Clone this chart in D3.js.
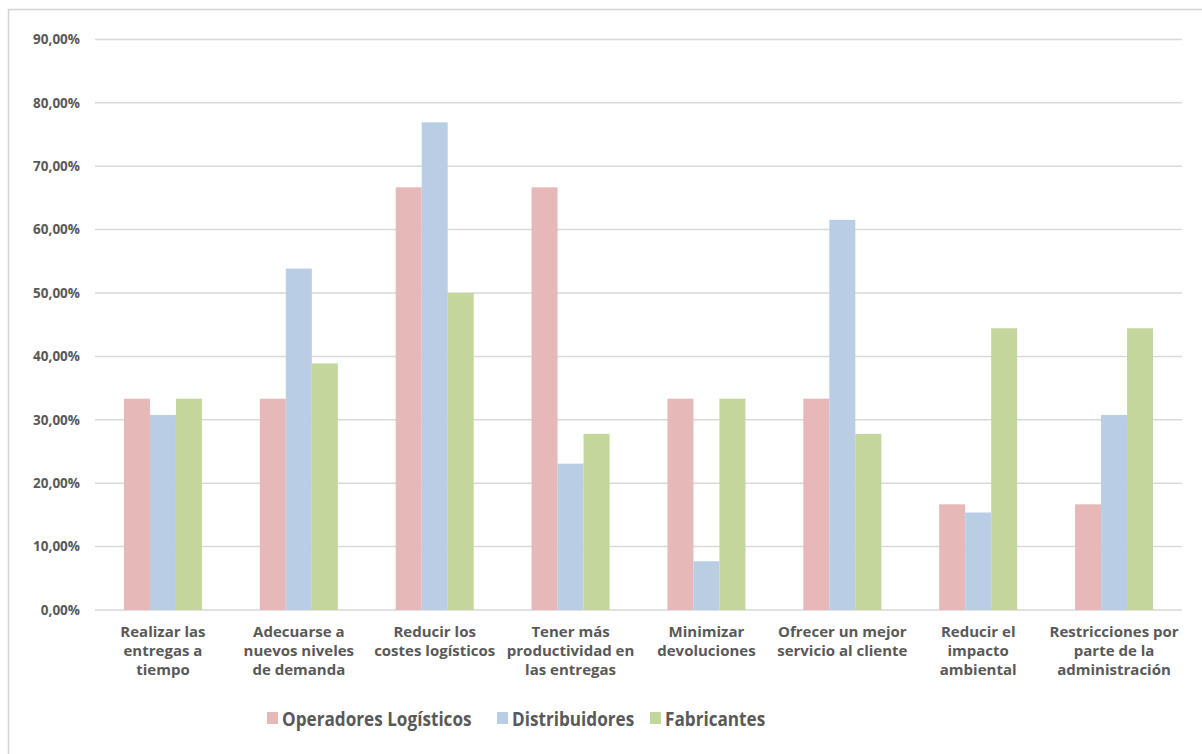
<!DOCTYPE html>
<html>
<head>
<meta charset="utf-8">
<script src="https://cdn.jsdelivr.net/npm/d3@7"></script>
<style>
  html, body { margin: 0; padding: 0; background: #ffffff; }
  svg { display: block; }
  text { font-family: "Open Sans", "DejaVu Sans", sans-serif; font-weight: bold; fill: #595959; }
</style>
</head>
<body>
<svg id="chart" width="1202" height="754"></svg>
<script>
// Categories (multi-line labels) and series values (%)
const categories = [
  ["Realizar las", "entregas a", "tiempo"],
  ["Adecuarse a", "nuevos niveles", "de demanda"],
  ["Reducir los", "costes logísticos"],
  ["Tener más", "productividad en", "las entregas"],
  ["Minimizar", "devoluciones"],
  ["Ofrecer un mejor", "servicio al cliente"],
  ["Reducir el", "impacto", "ambiental"],
  ["Restricciones por", "parte de la", "administración"]
];
const seriesNames = ["Operadores Logísticos", "Distribuidores", "Fabricantes"];
const operadores    = [33.33, 33.33, 66.67, 66.67, 33.33, 33.33, 16.67, 16.67];
const distribuidores = [30.77, 53.85, 76.92, 23.08, 7.69, 61.54, 15.38, 30.77];
const fabricantes   = [33.33, 38.89, 50.00, 27.78, 33.33, 27.78, 44.44, 44.44];
const colors = ["#e6b9b8", "#b9cde5", "#c3d69b"];
const yTicks = [0, 10, 20, 30, 40, 50, 60, 70, 80, 90];

const series = [operadores, distribuidores, fabricantes];

const svg = d3.select("#chart");

// Chart frame
svg.append("rect")
  .attr("x", 8.5).attr("y", 9.5)
  .attr("width", 1210).attr("height", 760)
  .attr("fill", "none").attr("stroke", "#d4d4d4").attr("stroke-width", 1.5);

const plot = { left: 95, right: 1182, top: 39.4, bottom: 610 };

const y = d3.scaleLinear().domain([0, 90]).range([plot.bottom, plot.top]);
const x0 = d3.scaleBand()
  .domain(d3.range(categories.length))
  .range([plot.left, plot.right])
  .paddingInner(0.426).paddingOuter(0.213);
const x1 = d3.scaleBand()
  .domain(d3.range(series.length))
  .range([0, x0.bandwidth()]);

// Gridlines
svg.append("g")
  .selectAll("line")
  .data(yTicks)
  .join("line")
  .attr("x1", plot.left).attr("x2", plot.right)
  .attr("y1", d => y(d)).attr("y2", d => y(d))
  .attr("stroke", "#d9d9d9").attr("stroke-width", 1.5);

// Y axis labels
const yAxis = d3.axisLeft(y)
  .tickValues(yTicks)
  .tickSize(0)
  .tickPadding(15)
  .tickFormat(d => d.toFixed(2).replace(".", ",") + "%");
const gy = svg.append("g")
  .attr("transform", `translate(${plot.left},0)`)
  .call(yAxis);
gy.select(".domain").remove();
gy.selectAll("text")
  .attr("font-size", 13.5)
  .attr("fill", "#595959")
  .style("font-family", "'Open Sans', 'DejaVu Sans', sans-serif")
  .style("font-weight", "bold");

// Bars
svg.append("g")
  .selectAll("g")
  .data(series)
  .join("g")
  .attr("fill", (d, i) => colors[i])
  .each(function(vals, si) {
    d3.select(this).selectAll("rect")
      .data(vals)
      .join("rect")
      .attr("x", (v, ci) => x0(ci) + x1(si))
      .attr("width", x1.bandwidth())
      .attr("y", v => y(v))
      .attr("height", v => y(0) - y(v));
  });

// Category labels
const labels = svg.append("g")
  .selectAll("text")
  .data(categories)
  .join("text")
  .attr("text-anchor", "middle")
  .attr("font-size", 15)
  .attr("x", (d, i) => x0(i) + x0.bandwidth() / 2)
  .attr("y", 637);
labels.selectAll("tspan")
  .data(d => d)
  .join("tspan")
  .attr("x", function() { return d3.select(this.parentNode).attr("x"); })
  .attr("dy", (d, i) => i === 0 ? 0 : 19)
  .text(d => d);

// Legend
const legendX = [267, 497, 650];
const legend = svg.append("g")
  .selectAll("g")
  .data(seriesNames)
  .join("g")
  .attr("transform", (d, i) => `translate(${legendX[i]},712)`);
legend.append("rect")
  .attr("width", 11).attr("height", 12)
  .attr("fill", (d, i) => colors[i]);
legend.append("text")
  .attr("transform", "translate(15,13.5) scale(0.88,1)")
  .attr("font-size", 19.5)
  .text(d => d);
</script>
</body>
</html>
